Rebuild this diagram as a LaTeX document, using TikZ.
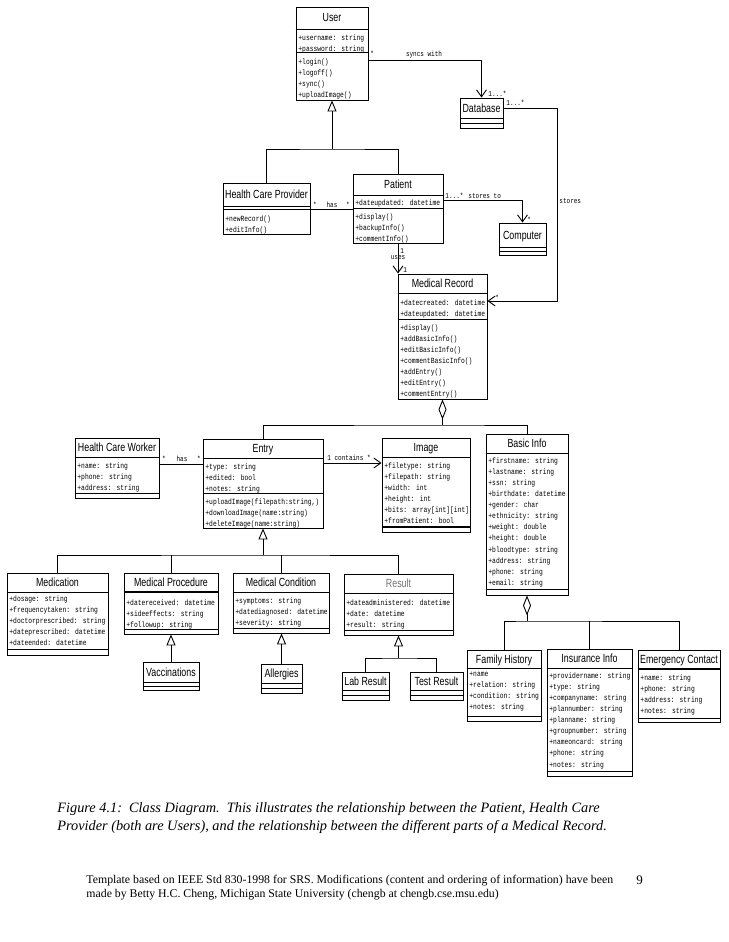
\documentclass[tikz,border=0pt]{standalone}
\usepackage{fontspec}
\setmainfont{Liberation Serif}
\newfontfamily\classfont[FakeStretch=0.75]{Liberation Sans}
\newfontfamily\memberfont[FakeStretch=0.8]{Liberation Mono}
\usetikzlibrary{arrows.meta}
\newcommand{\umlbox}[5]{\node[classbox, minimum width = #4-#2, minimum height = #5-#3] (#1) at ({(#2+#4)/2},{(#3+#5)/2}) {};}
\newcommand{\umlsep}[3][]{\draw[#1] (#2.west |- 0,#3) -- (#2.east |- 0,#3);}
\newcommand{\umltitle}[4][]{\node[classname, #1] (#2-name) at (#2.north |- 0,#3) {#4};}
\tikzset{
	classbox/.style = {draw, rectangle, inner sep = 0pt},
	classname/.style = {font = \classfont\fontsize{11.8}{13}\selectfont, anchor = base, inner sep = 0pt},
	members/.style = {font = \memberfont\fontsize{7.9}{11.1}\selectfont, align = left, anchor = north west, inner sep = 0pt, yshift = -2.7pt},
	assoc/.style = {font = \memberfont\fontsize{7.5}{9}\selectfont, anchor = base, inner sep = 0pt},
	genarrow/.style = {-{Triangle[open, length = 11pt, width = 9pt]}},
	navarrow/.style = {-{Straight Barb[length = 7pt, width = 10pt]}},
	aggline/.style = {{Diamond[open, length = 20pt, width = 8pt]}-},
}

\begin{document}
\begin{tikzpicture}[x = 1pt, y = -1pt, line width = 0.9pt]
	\fill[white] (0,0) rectangle (728,942);
	\useasboundingbox (0,0) rectangle (728,942);

	% users
	\umlbox{user}{296}{7}{368}{100}
	\umlsep{user}{29} \umlsep{user}{52}
	\umltitle{user}{22}{User}
	\node[members] (user-attr) at (298,31.4) {+username: string\\+password: string};
	\node[members] (user-ops) at (298,55.4) {+login()\\+logoff()\\+sync()\\+uploadImage()};

	\umlbox{database}{460}{98}{503}{128}
	\umlsep{database}{118} \umlsep{database}{123}
	\umltitle{database}{112}{Database}

	\umlbox{hcp}{223}{183}{310}{234}
	\umlsep{hcp}{206} \umlsep{hcp}{209}
	\umltitle{hcp}{198.5}{Health Care Provider}
	\node[members] (hcp-ops) at (225,212.4) {+newRecord()\\+editInfo()};

	\umlbox{patient}{353}{174}{443}{243}
	\umlsep{patient}{195} \umlsep{patient}{208}
	\umltitle{patient}{188.5}{Patient}
	\node[members] (patient-attr) at (355,196.4) {+dateupdated: datetime};
	\node[members] (patient-ops) at (355,210.4) {+display()\\+backupInfo()\\+commentInfo()};

	\umlbox{computer}{499}{223}{546}{255}
	\umlsep{computer}{247} \umlsep{computer}{251}
	\umltitle{computer}{239}{Computer}

	\umlbox{medrec}{398}{274}{487}{399}
	\umlsep{medrec}{293} \umlsep{medrec}{319}
	\umltitle{medrec}{287.5}{Medical Record}
	\node[members] (medrec-attr) at (400,296.4) {+datecreated: datetime\\+dateupdated: datetime};
	\node[members] (medrec-ops) at (400,321.4) {+display()\\+addBasicInfo()\\+editBasicInfo()\\+commentBasicInfo()\\+addEntry()\\+editEntry()\\+commentEntry()};

	% parts of the record
	\umlbox{hcw}{75}{438}{159}{498}
	\umlsep{hcw}{457} \umlsep{hcw}{493}
	\umltitle{hcw}{451.5}{Health Care Worker}
	\node[members] (hcw-attr) at (77,459.4) {+name: string\\+phone: string\\+address: string};

	\umlbox{entry}{203}{439}{323}{528}
	\umlsep{entry}{458} \umlsep{entry}{493}
	\umltitle{entry}{452.5}{Entry}
	\node[members] (entry-attr) at (205,460.4) {+type: string\\+edited: bool\\+notes: string};
	\node[members] (entry-ops) at (205,495.4) {+uploadImage(filepath:string,)\\+downloadImage(name:string)\\+deleteImage(name:string)};

	\umlbox{image}{382}{438}{470}{532}
	\umlsep{image}{457} \umlsep[line width = 1.6pt]{image}{527}
	\umltitle{image}{451.5}{Image}
	\node[members] (image-attr) at (384,459.4) {+filetype: string\\+filepath: string\\+width: int\\+height: int\\+bits: array[int][int]\\+fromPatient: bool};

	\umlbox{basicinfo}{486}{434}{568}{595}
	\umlsep{basicinfo}{453} \umlsep{basicinfo}{589}
	\umltitle{basicinfo}{447.5}{Basic Info}
	\node[members] (basicinfo-attr) at (488,454.4) {+firstname: string\\+lastname: string\\+ssn: string\\+birthdate: datetime\\+gender: char\\+ethnicity: string\\+weight: double\\+height: double\\+bloodtype: string\\+address: string\\+phone: string\\+email: string};

	% kinds of entry
	\umlbox{medication}{7}{573}{108}{655}
	\umlsep{medication}{592} \umlsep{medication}{649}
	\umltitle{medication}{586.5}{Medication}
	\node[members] (medication-attr) at (9,592.4) {+dosage: string\\+frequencytaken: string\\+doctorprescribed: string\\+dateprescribed: datetime\\+dateended: datetime};

	\umlbox{medproc}{124}{573}{218}{634}
	\umlsep[line width = 1.6pt]{medproc}{592} \umlsep{medproc}{629}
	\umltitle{medproc}{586.5}{Medical Procedure}
	\node[members] (medproc-attr) at (126,596.4) {+datereceived: datetime\\+sideeffects: string\\+followup: string};

	\umlbox{vaccinations}{143}{662}{199}{690}
	\umlsep{vaccinations}{682} \umlsep{vaccinations}{686}
	\umltitle{vaccinations}{676}{Vaccinations}

	\umlbox{medcond}{233}{573}{329}{633}
	\umlsep{medcond}{592} \umlsep{medcond}{628}
	\umltitle{medcond}{586.5}{Medical Condition}
	\node[members] (medcond-attr) at (235,594.4) {+symptoms: string\\+datediagnosed: datetime\\+severity: string};

	\umlbox{allergies}{261}{664}{302}{693}
	\umlsep{allergies}{683} \umlsep{allergies}{688}
	\umltitle{allergies}{677.5}{Allergies}

	\umlbox{result}{344}{574}{453}{635}
	\umlsep{result}{593} \umlsep{result}{630}
	\umltitle[black!55]{result}{587.5}{Result}
	\node[members] (result-attr) at (346,596.4) {+dateadministered: datetime\\+date: datetime\\+result: string};

	\umlbox{labresult}{342}{672}{389}{700}
	\umlsep{labresult}{690} \umlsep{labresult}{695}
	\umltitle{labresult}{685}{Lab Result}

	\umlbox{testresult}{410}{672}{463}{700}
	\umlsep{testresult}{690} \umlsep{testresult}{695}
	\umltitle{testresult}{685}{Test Result}

	% parts of basic info
	\umlbox{family}{467}{650}{541}{721}
	\umlsep{family}{668} \umlsep{family}{716}
	\umltitle{family}{663}{Family History}
	\node[members] (family-attr) at (469,668.4) {+name\\+relation: string\\+condition: string\\+notes: string};

	\umlbox{insurance}{547}{649}{632}{776}
	\umlsep{insurance}{668} \umlsep{insurance}{771}
	\umltitle{insurance}{662.5}{Insurance Info}
	\node[members] (insurance-attr) at (549,669.4) {+providername: string\\+type: string\\+companyname: string\\+plannumber: string\\+planname: string\\+groupnumber: string\\+nameoncard: string\\+phone: string\\+notes: string};

	\umlbox{emergency}{638}{650}{720}{722}
	\umlsep[line width = 1.6pt]{emergency}{669} \umlsep{emergency}{718}
	\umltitle{emergency}{663.5}{Emergency Contact}
	\node[members] (emergency-attr) at (640,671.4) {+name: string\\+phone: string\\+address: string\\+notes: string};

	% connectors
	\coordinate (userjoin) at (user.south |- 0,149);
	\draw[genarrow] (userjoin) -- (user.south);
	\draw (hcp.north) |- (userjoin) -| (patient.north);

	\draw[navarrow] (user.east |- 0,60) -| (database.north);
	\node[assoc, anchor = base west] (sync-mult1) at (370,57) {*};
	\node[assoc] (sync-name) at (424,57) {syncs with};
	\node[assoc, anchor = base west] (sync-mult2) at (488,96) {1...*};

	\draw[navarrow] (database.east |- 0,108) -- ++(54,0) |- (medrec.east |- 0,301);
	\node[assoc, anchor = base west] (stores-mult1) at (506,105.5) {1...*};
	\node[assoc, anchor = base west] (stores-name) at (559,203) {stores};
	\node[assoc, anchor = base west] (stores-mult2) at (495,300) {*};

	\draw[navarrow] (patient.east |- 0,200) -| (computer.north);
	\node[assoc, anchor = base west] (storesto-mult1) at (445,198) {1...*};
	\node[assoc, anchor = base west] (storesto-name) at (468,198) {stores to};
	\node[assoc, anchor = base west] (storesto-mult2) at (527,222) {*};

	\draw (hcp.east |- 0,209) -- (patient.west |- 0,209);
	\node[assoc] (hasp-mult1) at (315,207.5) {*};
	\node[assoc] (hasp-name) at (332,207.5) {has};
	\node[assoc] (hasp-mult2) at (348,207.5) {*};

	\draw[navarrow] (patient.south) -- (patient.south |- medrec.north);
	\node[assoc, anchor = base west] (uses-mult1) at (400,253) {1};
	\node[assoc] (uses-name) at (398,259) {uses};
	\node[assoc, anchor = base west] (uses-mult2) at (403,272) {1};

	\coordinate (mrjoin) at (medrec.south |- 0,425);
	\draw[aggline] (medrec.south) -- (mrjoin);
	\draw (entry.north) |- (mrjoin) -| (basicinfo.north);

	\draw (hcw.east |- 0,464) -- (entry.west |- 0,464);
	\node[assoc] (hasw-mult1) at (164,461) {*};
	\node[assoc] (hasw-name) at (182,461) {has};
	\node[assoc] (hasw-mult2) at (199,461) {*};

	\draw[navarrow] (entry.east |- 0,463) -- (image.west |- 0,463);
	\node[assoc] (contains) at (349,460) {1 contains *};

	\coordinate (entryjoin) at (entry.south |- 0,555);
	\draw[genarrow] (entryjoin) -- (entry.south);
	\draw (medication.north) |- (entryjoin) -| (result.north);
	\draw (medproc.north) -- (medproc.north |- entryjoin);
	\draw (medcond.north) -- (medcond.north |- entryjoin);

	\draw[genarrow] (vaccinations.north) -- (vaccinations.north |- medproc.south);
	\draw[genarrow] (allergies.north) -- (allergies.north |- medcond.south);

	\coordinate (resultjoin) at (result.south |- 0,658);
	\draw[genarrow] (resultjoin) -- (result.south);
	\draw (labresult.north) |- (resultjoin) -| (testresult.north);

	\coordinate (bijoin) at (basicinfo.south |- 0,621);
	\draw[aggline] (basicinfo.south) -- (bijoin);
	\draw (family.north) |- (bijoin) -| (emergency.north);
	\draw (insurance.north) -- (insurance.north |- bijoin);

	% caption and footer
	\node[anchor = north west, align = left, inner sep = 0pt, font = \itshape\fontsize{14.3}{18}\selectfont] (caption) at (57,802.3) {Figure 4.1:\ \ Class Diagram.\ \ This illustrates the relationship between the Patient, Health Care\\Provider (both are Users), and the relationship between the different parts of a Medical Record.};
	\node[anchor = north west, align = left, inner sep = 0pt, font = \fontsize{11.8}{14}\selectfont] (footer) at (86,875) {Template based on IEEE Std 830-1998 for SRS. Modifications (content and ordering of information) have been\\made by Betty H.C. Cheng, Michigan State University (chengb at chengb.cse.msu.edu)};
	\node[anchor = base west, inner sep = 0pt, font = \fontsize{13}{15}\selectfont] (pagenum) at (636,884) {9};
\end{tikzpicture}
\end{document}
